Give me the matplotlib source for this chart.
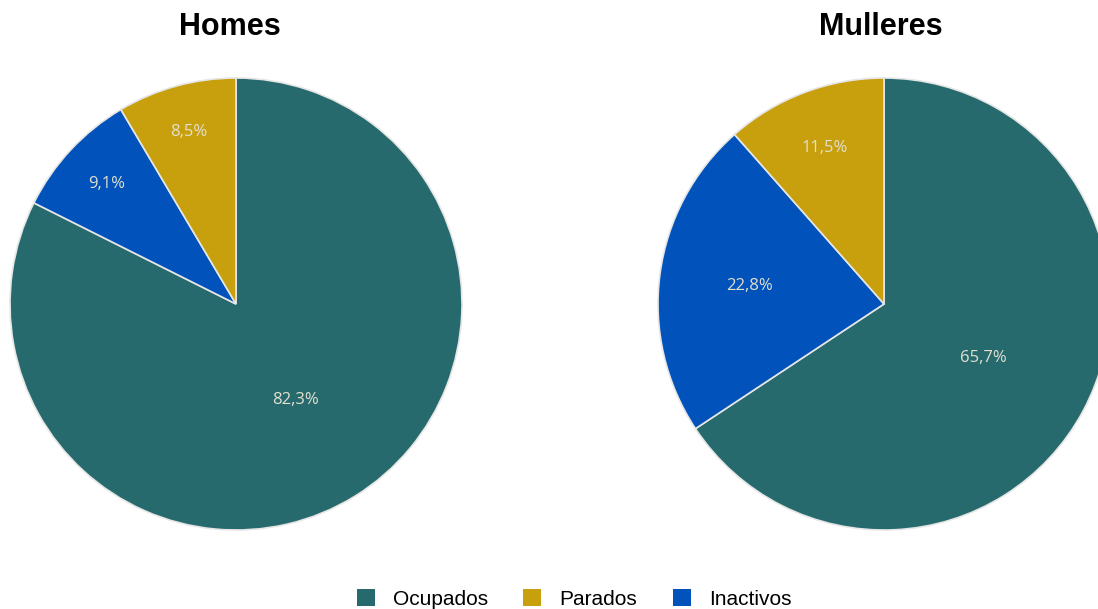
import matplotlib.pyplot as plt
from matplotlib.patches import Patch
import numpy as np

# Datos
categorias = ['Ocupados', 'Inactivos', 'Parados']
homes = [82.3, 9.1, 8.5]
mulleres = [65.7, 22.8, 11.5]
etiquetas_homes = ['82,3%', '9,1%', '8,5%']
etiquetas_mulleres = ['65,7%', '22,8%', '11,5%']
orde_lenda = ['Ocupados', 'Parados', 'Inactivos']

cores = {'Ocupados': '#276a6e', 'Parados': '#c8a00d', 'Inactivos': '#0152ba'}

W, H = 1098, 609
fig = plt.figure(figsize=(W / 100, H / 100), dpi=100)
plt.rcParams['font.family'] = ['Liberation Sans', 'DejaVu Sans']


def debuxa_pie(cx, cy, r, valores, etiquetas, dist, titulo, tx):
    ax = fig.add_axes([(cx - r) / W, (H - cy - r) / H, 2 * r / W, 2 * r / H])
    wedges, _ = ax.pie(valores, colors=[cores[c] for c in categorias],
                       startangle=90, counterclock=False, radius=1,
                       wedgeprops=dict(edgecolor='#e6e6e6', linewidth=1.2))
    for w, et, d in zip(wedges, etiquetas, dist):
        ang = np.deg2rad((w.theta1 + w.theta2) / 2)
        ax.text(d * np.cos(ang), d * np.sin(ang), et, ha='center', va='center',
                color='#e2e0cf', fontsize=12, family=['Open Sans', 'DejaVu Sans'])
    ax.set_xlim(-1, 1)
    ax.set_ylim(-1, 1)
    ax.set_aspect('equal')
    ax.axis('off')
    fig.text(tx / W, 1 - 27 / H, titulo, ha='center', va='center',
             fontsize=22, fontweight='bold')
    return ax


debuxa_pie(236, 304, 226, homes, etiquetas_homes, [0.5, 0.78, 0.79], 'Homes', 230)
debuxa_pie(884, 304, 226, mulleres, etiquetas_mulleres, [0.5, 0.6, 0.74], 'Mulleres', 881)

handles = [Patch(facecolor=cores[c], label=c) for c in orde_lenda]
fig.legend(handles=handles, loc='center', bbox_to_anchor=(574 / W, 1 - 599 / H),
           ncol=3, frameon=False, fontsize=15, handlelength=0.87, handleheight=0.87,
           handletextpad=0.87, columnspacing=1.7, borderpad=0)

fig.savefig('out.png', dpi=100)
